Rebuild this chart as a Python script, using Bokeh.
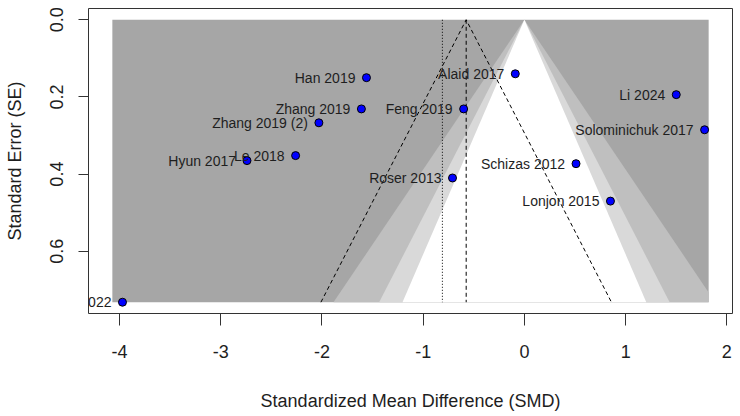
from statistics import NormalDist

from bokeh.core.properties import value
from bokeh.embed import file_html
from bokeh.models import ColumnDataSource, FixedTicker, PrintfTickFormatter, Range1d
from bokeh.plotting import figure
from bokeh.resources import INLINE

# Study effect sizes (standardized mean difference) and their standard errors
studies = ["Han 2019", "Zhang 2019", "Zhang 2019 (2)", "Le 2018", "Hyun 2017",
           "Alaid 2017", "Feng 2019", "Li 2024", "Solominichuk 2017",
           "Schizas 2012", "Roser 2013", "Lonjon 2015", "Kim 2022"]
smd = [-1.56, -1.61, -2.03, -2.26, -2.74, -0.09, -0.60, 1.50, 1.78, 0.51,
       -0.71, 0.85, -3.97]
se = [0.150, 0.231, 0.267, 0.352, 0.365, 0.140, 0.231, 0.194, 0.285, 0.373,
      0.410, 0.470, 0.732]

# Pooled estimate (dashed) and adjusted estimate (dotted)
pooled = -0.575
adjusted = -0.81

# Significance contours centred on zero effect
contour_levels = [0.99, 0.95, 0.90]
contour_colors = ["#bfbfbf", "#d9d9d9", "#ffffff"]
outer_color = "#a6a6a6"

x_ticks = [-4, -3, -2, -1, 0, 1, 2]
y_ticks = [0.0, 0.2, 0.4, 0.6]

# Funnel plotting limits
xlim = (-4.07, 1.82)
se_max = max(se)

FONT = "Liberation Sans"
TEXT = "#1e1e1e"


def funnel_polygon(center, z, ymax, xl, xr):
    """Triangle |x - center| <= z * y for 0 <= y <= ymax, clipped to [xl, xr]."""
    xs, ys = [center], [0.0]
    right = center + z * ymax
    if right > xr:
        xs += [xr, xr]
        ys += [(xr - center) / z, ymax]
    else:
        xs.append(right)
        ys.append(ymax)
    left = center - z * ymax
    if left < xl:
        xs += [xl, xl]
        ys += [ymax, (center - xl) / z]
    else:
        xs.append(left)
        ys.append(ymax)
    return xs, ys


xpad = 0.04 * (xlim[1] - xlim[0])
ypad = 0.04 * se_max

p = figure(width=740, height=416, output_backend="svg", toolbar_location=None,
           x_range=Range1d(xlim[0] - xpad, xlim[1] + xpad),
           y_range=Range1d(se_max + ypad, -ypad),
           min_border_left=88, min_border_right=8, min_border_top=8,
           min_border_bottom=103)
p.grid.visible = False
p.outline_line_color = "#333333"
p.outline_line_width = 1
p.background_fill_color = "white"
p.border_fill_color = "white"

# Outer (p < 0.01) region
p.quad(left=[xlim[0]], right=[xlim[1]], top=[0], bottom=[se_max],
       fill_color=outer_color, line_color=None)

# Contour bands
for level, color in zip(contour_levels, contour_colors):
    z = NormalDist().inv_cdf(1 - (1 - level) / 2)
    xs, ys = funnel_polygon(0.0, z, se_max, xlim[0], xlim[1])
    p.patch(xs, ys, fill_color=color, line_color=None)

# Pseudo confidence funnel around the pooled estimate
z95 = NormalDist().inv_cdf(0.975)
p.line([pooled - z95 * se_max, pooled, pooled + z95 * se_max], [se_max, 0, se_max],
       line_color="black", line_width=1, line_dash="4 3")
p.line([pooled, pooled], [0, se_max], line_color="black", line_width=1,
       line_dash="4 3")
p.line([adjusted, adjusted], [0, se_max], line_color="black", line_width=1,
       line_dash="1 2")

src = ColumnDataSource(dict(x=smd, y=se, label=studies))
p.scatter("x", "y", source=src, size=8, fill_color="#0000ff", line_color="black",
          line_width=1)
p.text("x", "y", text="label", source=src, x_offset=-11, text_align="right",
       text_baseline="middle", text_font=value(FONT), text_font_size="14px",
       text_color=TEXT)

# Axes
for ax in (p.xaxis, p.yaxis):
    ax.axis_line_color = None
    ax.major_tick_line_color = "#333333"
    ax.major_tick_in = 0
    ax.minor_tick_line_color = None
    ax.major_label_text_font = FONT
    ax.major_label_text_font_size = "18px"
    ax.major_label_text_color = TEXT
    ax.axis_label_text_font = FONT
    ax.axis_label_text_font_size = "18px"
    ax.axis_label_text_font_style = "normal"
    ax.axis_label_text_color = TEXT

p.xaxis.ticker = FixedTicker(ticks=x_ticks)
p.xaxis.formatter = PrintfTickFormatter(format="%d")
p.xaxis.major_tick_out = 12
p.xaxis.major_label_standoff = 19
p.xaxis.axis_label = "Standardized Mean Difference (SMD)"
p.xaxis.axis_label_standoff = 30

p.yaxis.ticker = FixedTicker(ticks=y_ticks)
p.yaxis.formatter = PrintfTickFormatter(format="%.1f")
p.yaxis.major_tick_out = 10
p.yaxis.major_label_orientation = "vertical"
p.yaxis.major_label_standoff = 15
p.yaxis.axis_label = "Standard Error (SE)"
p.yaxis.axis_label_standoff = 23

open("out.html", "w").write(file_html(p, INLINE))
